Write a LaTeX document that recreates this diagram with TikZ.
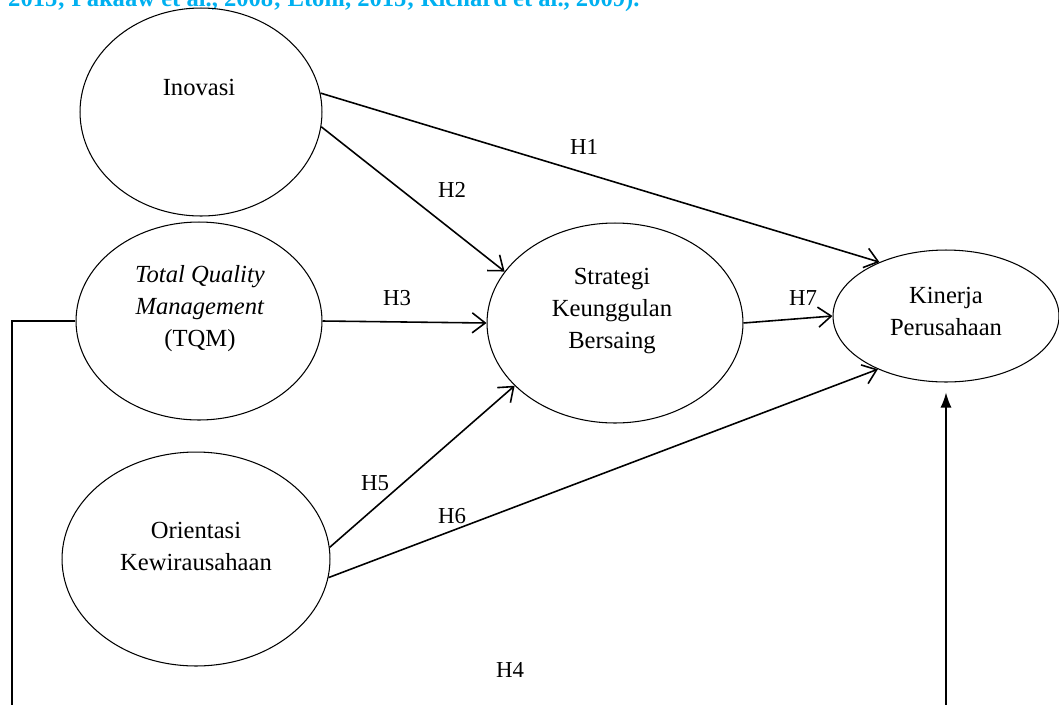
\documentclass[tikz,border=0pt]{standalone}
\usepackage{fontspec}
\setmainfont{Liberation Serif}
\usepackage{xcolor}
\usetikzlibrary{arrows.meta,shapes.geometric}
\definecolor{citeblue}{RGB}{0,176,240}

\tikzset{
  var/.style={draw, ellipse, line width=0.6pt, inner sep=0pt},
  txt/.style={align=center, font=\fontsize{14}{18.2}\selectfont},
  hyp/.style={font=\fontsize{13}{15}\selectfont},
  link/.style={line width=0.9pt, -{Straight Barb[length=2.6mm,width=4mm]}}
}

\begin{document}
\begin{tikzpicture}[x=0.02cm, y=-0.02cm]
		%----------------------------------------------------
		% Frame of the picture
		%----------------------------------------------------
		\useasboundingbox (0,0) rectangle (1059,704);
		\clip (0,0) rectangle (1059,704);
		\node[anchor=base west, text=citeblue, font=\bfseries\fontsize{14}{14}\selectfont] (cite) at (2,6)
			{2015; Pakaaw et al., 2008; Ltoni, 2015; Richard et al., 2009).};

		%----------------------------------------------------
		% The five variables
		%----------------------------------------------------
		\node[var, minimum width=4.84cm, minimum height=4.16cm] (ino) at (201,112) {};
		\node[var, minimum width=4.92cm, minimum height=3.96cm] (tqm) at (199,321) {};
		\node[var, minimum width=5.36cm, minimum height=4.28cm] (ori) at (196,559) {};
		\node[var, minimum width=5.12cm, minimum height=4.00cm] (str) at (615,323) {};
		\node[var, minimum width=4.52cm, minimum height=2.64cm] (kin) at (946,316) {};

		\node[txt] (inotxt) at (199,87) {Inovasi};
		\node[txt] (tqmtxt) at (200,309) {\textit{Total Quality}\\\textit{Management}\\(TQM)};
		\node[txt] (oritxt) at (196,546) {Orientasi\\Kewirausahaan};
		\node[txt] (strtxt) at (612,311) {Strategi\\Keunggulan\\Bersaing};
		\node[txt] (kintxt) at (946,311) {Kinerja\\Perusahaan};

		%----------------------------------------------------
		% Hypotheses
		%----------------------------------------------------
		\draw[link] (ino.9) -- (kin.141);
		\draw[link] (ino.-7) -- (str.155);
		\draw[link] (tqm.east) -- (str.west);
		\draw[link] (ori.5) -- (str.212);
		\draw[link] (ori.-8) -- (kin.218);
		\draw[link] (str.east) -- (kin.west);

		\coordinate (low) at (12,740);
		\draw[line width=0.8pt, -{Latex[length=3mm,width=2.2mm]}, shorten >=2mm]
			(tqm.west) -| (low) -| (kin.south);

		\node[hyp] (h1) at (584,147) {H1};
		\node[hyp] (h2) at (452,190) {H2};
		\node[hyp] (h3) at (397,298) {H3};
		\node[hyp] (h4) at (510,670) {H4};
		\node[hyp] (h5) at (375,483) {H5};
		\node[hyp] (h6) at (452,516) {H6};
		\node[hyp] (h7) at (803,298) {H7};

	\end{tikzpicture}
\end{document}
